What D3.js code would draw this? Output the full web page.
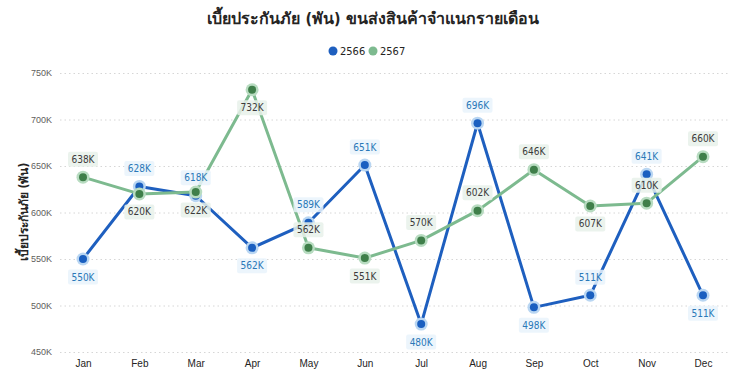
<!DOCTYPE html>
<html>
<head>
<meta charset="utf-8">
<script src="https://cdn.jsdelivr.net/npm/d3@7"></script>
<style>
  body { margin: 0; background: #fff; }
  svg { font-family: "DejaVu Sans Condensed", "Noto Sans", sans-serif; }
</style>
</head>
<body>
<svg id="chart" width="746" height="383"></svg>
<script>
const months = ["Jan", "Feb", "Mar", "Apr", "May", "Jun", "Jul", "Aug", "Sep", "Oct", "Nov", "Dec"];
const values2566 = [550, 628, 618, 562, 589, 651, 480, 696, 498, 511, 641, 511];
const values2567 = [638, 620, 622, 732, 562, 551, 570, 602, 646, 607, 610, 660];
// label above (1) or below (-1) the point
const pos2566 = [-1, 1, 1, -1, 1, 1, -1, 1, -1, 1, 1, -1];
const pos2567 = [1, -1, -1, -1, 1, -1, 1, 1, 1, -1, 1, 1];
const yTicks = [450, 500, 550, 600, 650, 700, 750];

const svg = d3.select("#chart");
const plotLeft = 60, plotRight = 728, plotTop = 73, plotBottom = 352;

const x = d3.scalePoint().domain(months).range([83, 703]);
const y = d3.scaleLinear().domain([450, 750]).range([plotBottom, plotTop]);

// Title
svg.append("text")
    .attr("x", 373).attr("y", 24)
    .attr("text-anchor", "middle")
    .style("font-size", "16px").style("font-weight", "bold")
    .attr("fill", "#252423")
    .text("เบี้ยประกันภัย (พัน) ขนส่งสินค้าจำแนกรายเดือน");

// Legend
const legend = svg.append("g").attr("transform", "translate(333, 51)");
[["2566", "#1e5fbf", 0], ["2567", "#7dba8f", 40]].forEach(([t, c, dx]) => {
    legend.append("circle").attr("cx", dx).attr("cy", 0).attr("r", 4.5).attr("fill", c);
    legend.append("text").attr("x", dx + 7).attr("y", 4)
        .style("font-size", "11px").attr("fill", "#252423").text(t);
});

// Grid + y axis
const yAxis = d3.axisLeft(y).tickValues(yTicks).tickSize(-(plotRight - plotLeft)).tickFormat(d => d + "K");
svg.append("g")
    .attr("transform", `translate(${plotLeft},0)`)
    .call(yAxis)
    .call(g => g.select(".domain").remove())
    .call(g => g.selectAll("line").attr("stroke", "#d6d6d6").attr("stroke-dasharray", "1.5,3"))
    .call(g => g.selectAll("text").attr("x", -8).attr("fill", "#605e5c").style("font-size", "9px"));

// x axis
const xAxis = d3.axisBottom(x).tickSize(0);
svg.append("g")
    .attr("transform", `translate(0,${plotBottom + 5})`)
    .call(xAxis)
    .call(g => g.select(".domain").remove())
    .call(g => g.selectAll("text").attr("fill", "#252423").style("font-size", "10px"));

// y title
svg.append("text")
    .attr("transform", `translate(28, 212) rotate(-90)`)
    .attr("text-anchor", "middle")
    .style("font-size", "12px").style("font-weight", "bold")
    .attr("fill", "#252423")
    .text("เบี้ยประกันภัย (พัน)");

function drawSeries(vals, pos, lineColor, dotColor, haloColor, labelColor, labelBg) {
    const data = months.map((m, i) => ({ m, v: vals[i], p: pos[i] }));
    const line = d3.line().x(d => x(d.m)).y(d => y(d.v));
    svg.append("path").datum(data)
        .attr("d", line).attr("fill", "none")
        .attr("stroke", lineColor).attr("stroke-width", 3)
        .attr("stroke-linejoin", "round");
    const g = svg.append("g");
    g.selectAll(".halo").data(data).join("circle")
        .attr("cx", d => x(d.m)).attr("cy", d => y(d.v)).attr("r", 6.5)
        .attr("fill", haloColor);
    g.selectAll(".dot").data(data).join("circle")
        .attr("cx", d => x(d.m)).attr("cy", d => y(d.v)).attr("r", 4)
        .attr("fill", dotColor);
    return data.map(d => ({ ...d, labelColor, labelBg }));
}

const lab1 = drawSeries(values2566, pos2566, "#1e5fbf", "#1a5fc0", "#b9d6f2", "#2a78b8", "#e9f3fb");
const lab2 = drawSeries(values2567, pos2567, "#7dba8f", "#3f7f4a", "#b8dcc1", "#3b3b3b", "#e8f1ea");

// data labels
const labels = svg.append("g").style("font-size", "10px");
lab2.concat(lab1).forEach(d => {
    const cx = x(d.m), cy = y(d.v) - d.p * 18;
    const w = 30, h = 15;
    labels.append("rect")
        .attr("x", cx - w / 2).attr("y", cy - h / 2)
        .attr("width", w).attr("height", h).attr("rx", 2)
        .attr("fill", d.labelBg).attr("fill-opacity", 0.85);
    labels.append("text")
        .attr("x", cx).attr("y", cy + 3.5)
        .attr("text-anchor", "middle")
        .attr("fill", d.labelColor)
        .text(d.v + "K");
});
</script>
</body>
</html>
